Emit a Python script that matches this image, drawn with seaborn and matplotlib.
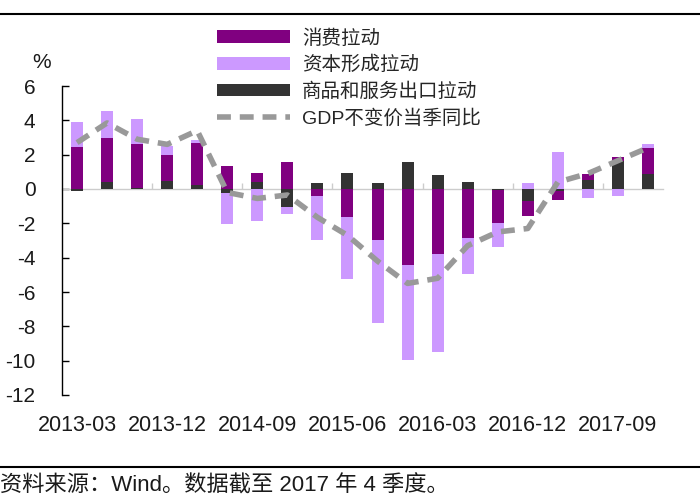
import numpy as np
import seaborn as sns
import matplotlib.pyplot as plt
from matplotlib.patches import Patch
from matplotlib.lines import Line2D
from matplotlib.ticker import FixedLocator

quarters = [
    "2013-03", "2013-06", "2013-09", "2013-12",
    "2014-03", "2014-06", "2014-09", "2014-12",
    "2015-03", "2015-06", "2015-09", "2015-12",
    "2016-03", "2016-06", "2016-09", "2016-12",
    "2017-03", "2017-06", "2017-09", "2017-12",
]

# 商品和服务出口拉动
exports = [-0.1, 0.43, 0.05, 0.45, 0.23, -0.23, 0.42, -1.07, 0.33, 0.94,
           0.33, 1.56, 0.84, 0.39, -0.05, -0.68, -0.1, 0.55, 1.62, 0.88]
# 消费拉动
consumption = [2.45, 2.55, 2.58, 1.54, 2.46, 1.33, 0.5, 1.6, -0.43, -1.66,
               -2.98, -4.44, -3.8, -2.88, -1.91, -0.88, -0.55, 0.35, 0.27, 1.5]
# 资本形成拉动
capital = [1.45, 1.56, 1.42, 0.49, 0.18, -1.82, -1.85, -0.39, -2.53, -3.57,
           -4.81, -5.54, -5.71, -2.09, -1.44, 0.33, 2.18, -0.55, -0.39, 0.25]
# GDP不变价当季同比
gdp = [2.7, 3.85, 2.9, 2.6, 3.4, -0.2, -0.55, -0.35, -1.65, -2.7,
       -4.2, -5.5, -5.2, -3.3, -2.5, -2.3, 0.4, 0.9, 1.65, 2.4]

names = ["消费拉动", "资本形成拉动", "商品和服务出口拉动", "GDP不变价当季同比"]
c_cons, c_cap, c_exp, c_gdp = "#800080", "#cc99ff", "#333333", "#999999"

sns.set_theme(style="white")
plt.rcParams["font.family"] = ["Liberation Sans", "Noto Sans CJK SC"]
plt.rcParams["axes.unicode_minus"] = False

fig = plt.figure(figsize=(7, 5), dpi=100)
ax = fig.add_axes([62 / 700, 1 - 395 / 500, 601 / 700, 309 / 500])

x = np.arange(len(quarters))
pos_base = np.zeros(len(x))
neg_base = np.zeros(len(x))
# stacking order from the zero line outwards: exports, consumption, capital
for vals, col in [(exports, c_exp), (consumption, c_cons), (capital, c_cap)]:
    v = np.array(vals)
    bottom = np.where(v >= 0, pos_base, neg_base)
    ax.bar(x, v, bottom=bottom, width=0.4, color=col, linewidth=0, zorder=2)
    pos_base = pos_base + np.clip(v, 0, None)
    neg_base = neg_base + np.clip(v, None, 0)

dash = (0, (2.5, 1.6))
sns.lineplot(x=x, y=gdp, ax=ax, color=c_gdp, lw=4, zorder=3)
ax.lines[-1].set_linestyle(dash)

ax.set_xlim(-0.5, 19.5)
ax.set_ylim(-12, 6)
ax.set_yticks(np.arange(-12, 7, 2))
ax.tick_params(axis="y", direction="in", length=5, width=1, color="black",
               left=True, pad=19, labelsize=15, labelcolor="#1a1a1a")

ax.spines["top"].set_visible(False)
ax.spines["right"].set_visible(False)
ax.spines["left"].set_color("black")
ax.spines["left"].set_linewidth(1)
ax.spines["bottom"].set_position(("data", 0))
ax.spines["bottom"].set_color("#cccccc")
ax.spines["bottom"].set_linewidth(1)
ax.spines["bottom"].set_zorder(1)

ax.set_xticks(x[::3])
ax.set_xticklabels(quarters[::3])
ax.xaxis.set_minor_locator(FixedLocator(np.arange(2.5, 20, 3)))
ax.tick_params(axis="x", which="major", length=0, pad=163, labelsize=15.5,
               labelcolor="#1a1a1a")
ax.tick_params(axis="x", which="minor", direction="in", length=4,
               color="#cccccc", bottom=True)
ax.set_xlabel("")
ax.set_ylabel("")
ax.grid(False)

fig.text(42 / 700, 1 - 62 / 500, "%", ha="center", va="center", fontsize=15,
         color="#1a1a1a")

handles = [
    Patch(facecolor=c_cons, edgecolor="none"),
    Patch(facecolor=c_cap, edgecolor="none"),
    Patch(facecolor=c_exp, edgecolor="none"),
    Line2D([], [], color=c_gdp, lw=4, linestyle=dash),
]
fig.legend(handles, names, loc="upper left", bbox_to_anchor=(217 / 700, 1 - 29 / 500),
           frameon=False, fontsize=14, handlelength=3.76, handleheight=0.62,
           handletextpad=0.62, labelspacing=0.42, borderpad=0, borderaxespad=0)

fig.add_artist(Line2D([0, 1], [1 - 14 / 500] * 2, color="black", lw=1.5))
fig.add_artist(Line2D([0, 1], [1 - 467 / 500] * 2, color="black", lw=1.5))
fig.text(0.0, 1 - 486 / 500, "资料来源：Wind。数据截至 2017 年 4 季度。",
         ha="left", va="center", fontsize=16, color="#1a1a1a")

fig.savefig("out.png", dpi=100)
